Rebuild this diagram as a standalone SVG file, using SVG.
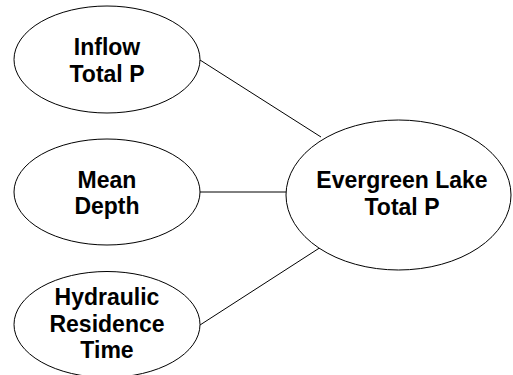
<svg xmlns="http://www.w3.org/2000/svg" width="513" height="375" viewBox="0 0 513 375">
<style>
.n{fill:#fff;stroke:#000;stroke-width:1}
.t{font-family:"Liberation Sans",Arial,sans-serif;font-weight:bold;font-size:23px;text-anchor:middle;fill:#000}
.c line{stroke:#000;stroke-width:1}
</style>
<rect width="513" height="375" fill="#fff"/>
<g class="c" id="connectors">
<line x1="200" y1="60" x2="321" y2="137"/>
<line x1="200" y1="192" x2="286" y2="192"/>
<line x1="200" y1="325" x2="321" y2="247"/>
</g>
<g id="inflow">
<ellipse class="n" cx="107" cy="59.5" rx="93" ry="53.5"/>
<text class="t" x="107" y="55">Inflow</text>
<text class="t" x="107" y="82">Total P</text>
</g>
<g id="depth">
<ellipse class="n" cx="107" cy="192" rx="93" ry="53"/>
<text class="t" x="107" y="188">Mean</text>
<text class="t" x="107" y="214">Depth</text>
</g>
<g id="residence">
<ellipse class="n" cx="107" cy="324.5" rx="93" ry="53"/>
<text class="t" x="107" y="305">Hydraulic</text>
<text class="t" x="107" y="332">Residence</text>
<text class="t" x="107" y="358">Time</text>
</g>
<g id="lake">
<ellipse class="n" cx="398.5" cy="195" rx="112.5" ry="75"/>
<text class="t" x="402" y="188">Evergreen Lake</text>
<text class="t" x="402" y="215">Total P</text>
</g>
</svg>
